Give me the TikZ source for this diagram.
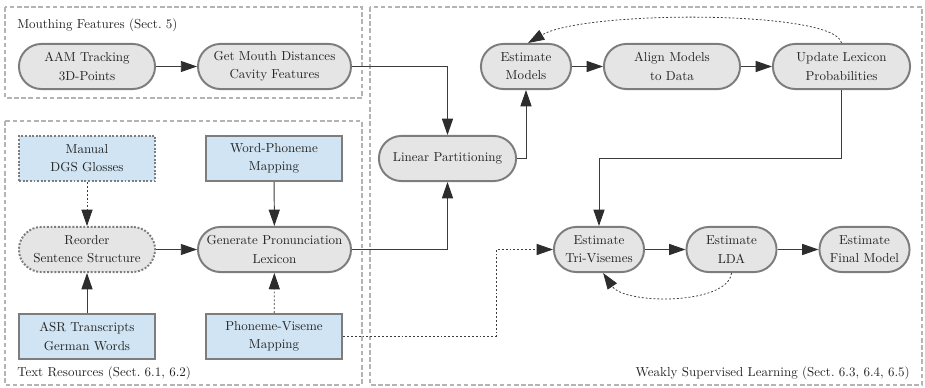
\documentclass[tikz,border=0pt]{standalone}
\usetikzlibrary{arrows.meta,calc}
\definecolor{nodefill}{RGB}{229,229,229}
\definecolor{resfill}{RGB}{208,228,243}
\definecolor{nodeborder}{RGB}{125,125,125}
\definecolor{groupgray}{RGB}{180,180,180}
\definecolor{lineclr}{RGB}{60,60,60}
\definecolor{arrowclr}{RGB}{45,45,45}
\definecolor{txt}{RGB}{35,35,35}
\tikzset{
  nodefont/.style={font=\fontsize{10}{14}\selectfont, text=txt},
  stadium/.style={draw=nodeborder, fill=nodefill, line width=1.5pt, rounded corners=17.3pt,
    minimum height=34.7pt, align=center, inner sep=2pt, nodefont},
  resbox/.style={draw=nodeborder, fill=resfill, line width=1.5pt,
    minimum height=34.7pt, minimum width=104.7pt, align=center, inner sep=2pt, nodefont},
  dotborder/.style={dash pattern=on 1.5pt off 1.3pt},
  groupbox/.style={draw=groupgray, line width=1.5pt, dash pattern=on 3.5pt off 2pt},
  conn/.style={draw=lineclr, line width=0.75pt,
    -{Triangle[length=12.5pt,width=8.5pt,fill=arrowclr,color=arrowclr]}},
  dconn/.style={conn, line width=0.6pt, dash pattern=on 1.5pt off 1.5pt},
  grouplabel/.style={inner sep=0pt, nodefont}
}
\begin{document}
\begin{tikzpicture}[x=0.76923pt,y=-0.76923pt]
\useasboundingbox (0,0) rectangle (925,388);
% group frames
\draw[groupbox] (5,7) rectangle (362,98);
\draw[groupbox] (5,121) rectangle (362,385);
\draw[groupbox] (370,7) rectangle (922,385);
\node[grouplabel, anchor=base west] (lmouth) at (17,28.5) {Mouthing Features (Sect.~5)};
\node[grouplabel, anchor=base west] (ltext) at (17,377) {Text Resources (Sect.~6.1, 6.2)};
\node[grouplabel, anchor=base east] (lweak) at (910,377) {Weakly Supervised Learning (Sect.~6.3, 6.4, 6.5)};
% nodes
\node[stadium, minimum width=104.7pt] (aam) at (87,66.5) {AAM Tracking\\3D-Points};
\node[stadium, minimum width=117.7pt] (gmd) at (274.5,66.5) {Get Mouth Distances\\Cavity Features};
\node[resbox, dotborder] (manual) at (87,158.5) {Manual\\DGS Glosses};
\node[resbox] (wp) at (274,158.5) {Word-Phoneme\\Mapping};
\node[stadium, dotborder, minimum width=104.7pt] (reorder) at (87,249.5) {Reorder\\Sentence Structure};
\node[stadium, minimum width=117.7pt] (gpl) at (274.5,249.5) {Generate Pronunciation\\Lexicon};
\node[resbox] (asr) at (87,336.5) {ASR Transcripts\\German Words};
\node[resbox] (pv) at (274,336.5) {Phoneme-Viseme\\Mapping};
\node[stadium, minimum width=105.5pt] (lp) at (447.5,158.5) {Linear Partitioning};
\node[stadium, minimum width=69.3pt] (em) at (526,66.5) {Estimate\\Models};
\node[stadium, minimum width=104.7pt] (align) at (672,66.5) {Align Models\\to Data};
\node[stadium, minimum width=105.5pt] (ulp) at (841.5,66.5) {Update Lexicon\\Probabilities};
\node[stadium, minimum width=69.3pt] (tv) at (599,249.5) {Estimate\\Tri-Visemes};
\node[stadium, minimum width=69.3pt] (lda) at (731.5,249.5) {Estimate\\LDA};
\node[stadium, minimum width=69.3pt] (fm) at (864.5,249.5) {Estimate\\Final Model};
\coordinate (kink) at (496,0);
% connectors
\draw[conn] (aam) -- (gmd);
\draw[conn] (gmd.east) -| (lp.north);
\draw[conn] (gpl.east) -| (lp.south);
\draw[conn] (lp.east) -| (em.south);
\draw[conn] (em) -- (align);
\draw[conn] (align) -- (ulp);
\draw[conn] (ulp.south) -- (ulp.south |- lp.east) -| (tv.north);
\draw[conn] (tv) -- (lda);
\draw[conn] (lda) -- (fm);
\draw[dconn] (pv.east) -- (pv.east -| kink) |- (tv.west);
\draw[dconn] (manual) -- (reorder);
\draw[conn] (asr) -- (reorder);
\draw[conn] (reorder) -- (gpl);
\draw[conn] (wp) -- (gpl);
\draw[dconn] (pv) -- (gpl);
\draw[dconn] (ulp.north) .. controls (836,10) and (585,10) .. (em.85);
\draw[dconn] (lda.south) .. controls (728,305) and (625,305) .. (tv.-80);
\end{tikzpicture}
\end{document}
